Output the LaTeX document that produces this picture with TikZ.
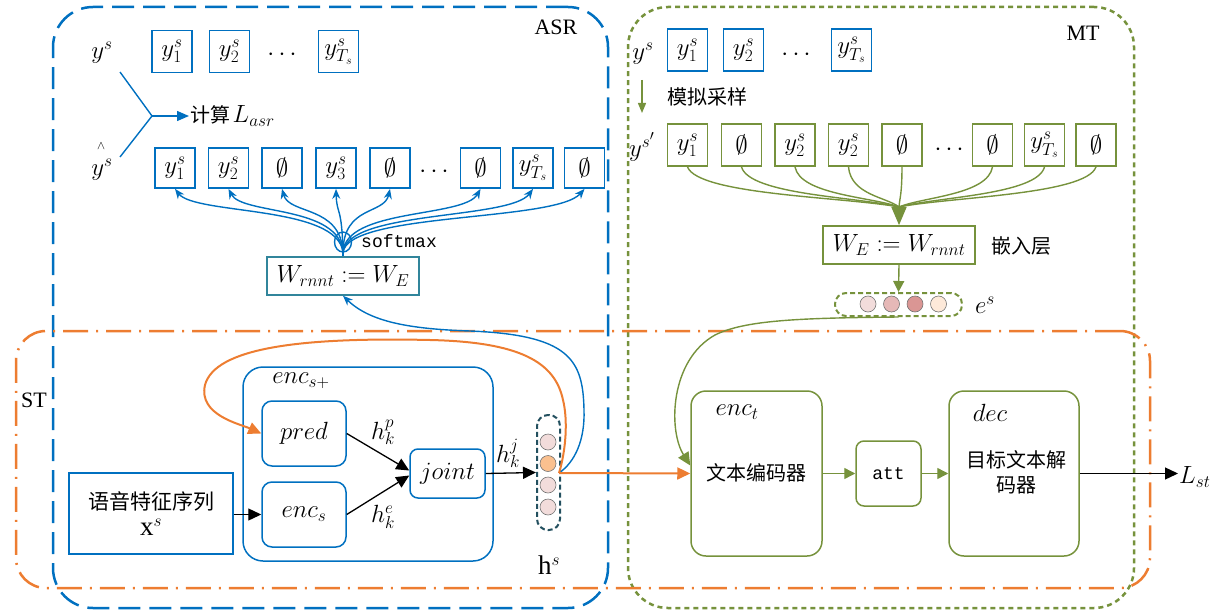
\documentclass[tikz,border=0pt]{standalone}
\usepackage{fontspec}
\setmainfont{Liberation Serif}
\newfontfamily\cjk{Noto Sans CJK SC}
\newfontfamily\monof{Liberation Mono}
\usetikzlibrary{arrows.meta,calc,shapes.geometric}
\definecolor{asrblue}{RGB}{0,112,192}
\definecolor{mtgreen}{RGB}{118,146,60}
\definecolor{storange}{RGB}{237,125,49}
\definecolor{tealc}{RGB}{49,133,155}
\definecolor{hsdark}{RGB}{35,80,95}
\definecolor{cpink}{RGB}{242,220,219}
\definecolor{corange}{RGB}{250,192,143}
\definecolor{crose}{RGB}{230,184,183}
\definecolor{cred}{RGB}{218,150,148}
\definecolor{cpeach}{RGB}{253,233,217}
\newcommand{\es}{{\fontsize{32}{32}\selectfont$\emptyset$}}
\begin{document}
\begin{tikzpicture}[x=1pt,y=-1pt,
  mth/.style={font=\fontsize{27}{32}\selectfont, inner sep=1pt},
  bmth/.style={font=\fontsize{25}{30}\selectfont, inner sep=0pt},
  cjkt/.style={font=\fontsize{20}{25}\selectfont\cjk, inner sep=1pt},
  mono/.style={font=\fontsize{18}{22}\selectfont\monof, inner sep=1pt},
  lab/.style={font=\fontsize{22}{25}\selectfont, inner sep=1pt},
  ab/.style={draw=asrblue, line width=1.8pt, minimum width=40pt, minimum height=42pt, inner sep=0pt, bmth},
  abb/.style={ab, minimum height=40pt},
  gb/.style={draw=mtgreen, line width=1.8pt, minimum width=40pt, minimum height=42pt, inner sep=0pt, bmth},
  bline/.style={draw=asrblue, line width=1.4pt},
  barr/.style={bline, -{Stealth[length=10pt,width=8pt]}},
  gline/.style={draw=mtgreen, line width=1.4pt},
  garr/.style={gline, -{Triangle[length=11pt,width=11pt]}},
  karr/.style={draw=black, line width=1.3pt, -{Triangle[length=13pt,width=12pt]}},
  oarr/.style={draw=storange, line width=2pt, -{Triangle[length=13pt,width=12pt]}},
  dot/.style={circle, draw=black!55, line width=0.6pt, minimum size=16pt, inner sep=0pt}
]
\useasboundingbox (0,0) rectangle (1222,615);

% containers
\node[draw=asrblue, line width=2.5pt, dash pattern=on 22pt off 9pt, rounded corners=40pt, minimum width=555pt, minimum height=601pt, inner sep=0pt] (asr) at (330.5,307.5) {};
\node[draw=mtgreen, line width=2.5pt, dash pattern=on 5pt off 4pt, rounded corners=40pt, minimum width=506pt, minimum height=601pt, inner sep=0pt] (mt) at (881,307.5) {};
\node[draw=storange, line width=2.5pt, dash pattern=on 25pt off 8pt on 2pt off 8pt, rounded corners=30pt, minimum width=1134pt, minimum height=257pt, inner sep=0pt] (st) at (583,459.5) {};
\node[lab] (asrl) at (556,27) {ASR};
\node[lab] (mtl) at (1083,33) {MT};
\node[lab] (stl) at (34,400) {ST};

% ASR top row
\node[mth] (ys) at (102,53) {$y^s$};
\node[ab] (a1) at (172,51.5) {$y_1^s$};
\node[ab] (a2) at (229.5,51.5) {$y_2^s$};
\node[mth] (adots) at (282,55) {$\cdots$};
\node[ab] (aT) at (338.5,51.5) {$y_{T_s}^s$};

% compute L_asr
\coordinate (c1) at (120,72);
\coordinate (c2) at (120,157);
\coordinate (jn) at (152,116);
\node[anchor=west, inner sep=1pt] (calc) at (189,116) {{\fontsize{20}{24}\selectfont\cjk 计算} {\fontsize{27}{30}\selectfont$L_{asr}$}};
\draw[bline] (c1) -- (jn) -- (c2);
\draw[bline, -{Triangle[length=12pt,width=10pt]}] (jn) -- (calc.west);

% y hat
\node[font=\fontsize{13}{15}\selectfont, inner sep=0pt] (hat) at (101,146) {$\wedge$};
\node[mth] (yh) at (102,170) {$y^s$};

% ASR bottom row
\node[abb] (b1) at (175,168) {$y_1^s$};
\node[abb] (b2) at (228.5,168) {$y_2^s$};
\node[abb] (b3) at (282,168) {\es};
\node[abb] (b4) at (336,168) {$y_3^s$};
\node[abb] (b5) at (390,168) {\es};
\node[mth] (bdots) at (434,172) {$\cdots$};
\node[abb] (b6) at (480.5,168) {\es};
\node[abb] (b7) at (533,168) {$y_{T_s}^s$};
\node[abb] (b8) at (584.5,168) {\es};

% softmax and W_rnnt
\node[draw=tealc, line width=1.5pt, minimum width=152pt, minimum height=38pt, mth] (wr) at (343,276) {$W_{rnnt}\mathrel{:=}W_E$};
\node[ellipse, draw=asrblue, line width=1.4pt, minimum width=17pt, minimum height=20pt, inner sep=0pt] (sm) at (343,242) {};
\node[mono, anchor=west] (smt) at (360,241) {softmax};
\draw[bline] (wr.north) -- (sm.south);
\draw[barr] (sm.south) .. controls (338.7,205) and (195,215) .. (b1.south);
\draw[barr] (sm.south) .. controls (339.7,205) and (242.1,215) .. (b2.south);
\draw[barr] (sm.south) .. controls (340.8,205) and (289.2,215) .. (b3.south);
\draw[barr] (sm.south) .. controls (341.9,205) and (336.7,215) .. (b4.south);
\draw[barr] (sm.south) .. controls (343,205) and (384.2,215) .. (b5.south);
\draw[barr] (sm.south) .. controls (344.8,208) and (463.9,218) .. (b6.south);
\draw[barr] (sm.south) .. controls (345.8,210) and (510.1,220) .. (b7.south);
\draw[barr] (sm.south) .. controls (346.9,212) and (555.4,222) .. (b8.south);

% ST inner
\node[draw=asrblue, line width=1.5pt, rounded corners=20pt, minimum width=250pt, minimum height=194pt] (encsp) at (368,464) {};
\node[mth] (encspl) at (301,381) {$enc_{s+}$};
\node[draw=asrblue, line width=1.5pt, rounded corners=10pt, minimum width=84pt, minimum height=65pt, mth] (pred) at (304,433.5) {$pred$};
\node[draw=asrblue, line width=1.5pt, rounded corners=10pt, minimum width=84pt, minimum height=65pt, mth] (encs) at (304,514.5) {$enc_s$};
\node[draw=asrblue, line width=1.5pt, rounded corners=8pt, minimum width=75pt, minimum height=49pt, mth] (joint) at (447.5,473.5) {$joint$};
\node[draw=asrblue, line width=1.5pt, minimum width=164pt, minimum height=81pt, align=center, inner sep=0pt] (xs) at (151,513.5) {{\fontsize{21}{26}\selectfont\cjk 语音特征序列}\\[6pt]{\fontsize{27}{28}\selectfont$\mathrm{x}^s$}};
\node[bmth] (hp) at (383,432) {$h_k^p$};
\node[bmth] (he) at (383,517) {$h_k^e$};
\node[bmth] (hj) at (508,453) {$h_k^j$};

\node[draw=hsdark, line width=2pt, dash pattern=on 5pt off 3pt, rounded corners=11pt, minimum width=23pt, minimum height=115pt, inner sep=0pt] (hs) at (548.5,472.5) {};
\node[dot, fill=cpink] (h1) at (548,442) {};
\node[dot, fill=corange] (h2) at (548,463.5) {};
\node[dot, fill=cpink] (h3) at (548,485) {};
\node[dot, fill=cpink] (h4) at (548,507) {};
\node[mth] (hsl) at (549,565) {$\mathrm{h}^s$};
\coordinate (hsout) at (559,473);

\draw[karr] (xs.east |- encs.west) -- (encs.west);
\draw[karr] (pred.east) -- ([yshift=3pt]joint.west);
\draw[karr] (encs.east) -- ([yshift=-2pt]joint.west);
\draw[karr] (joint.east) -- (hs.west);

% blue feedback to W_rnnt
\draw[barr] (hsout) .. controls (575,462) and (585,440) .. (584,410) .. controls (583,360) and (570,335) .. (470,331) .. controls (410,329) and (370,322) .. (wr.south);
% orange feedback to pred
\draw[oarr] (hsout) .. controls (566,450) and (568,420) .. (563,400) .. controls (555,362) and (520,342) .. (430,340) .. controls (300,337) and (215,348) .. (205,385) .. controls (198,415) and (240,424) .. (pred.west);

% MT top row
\node[mth] (ys2) at (643,54) {$y^s$};
\node[ab] (m1) at (687.5,50) {$y_1^s$};
\node[ab] (m2) at (743.5,50) {$y_2^s$};
\node[mth] (mdots) at (796,55) {$\cdots$};
\node[ab] (mT) at (851.5,50) {$y_{T_s}^s$};
\coordinate (sa) at (642,80);
\coordinate (sb) at (642,113);
\draw[gline, -{Triangle[length=10pt,width=8pt]}] (sa) -- (sb);
\node[cjkt] (samp) at (707,97) {模拟采样};

% MT second row
\node[mth] (ysp) at (642,147) {$y^{s'}$};
\node[gb] (g1) at (687.5,145) {$y_1^s$};
\node[gb] (g2) at (741.5,145) {\es};
\node[gb] (g3) at (795,145) {$y_2^s$};
\node[gb] (g4) at (848.5,145) {$y_2^s$};
\node[gb] (g5) at (902,145) {\es};
\node[mth] (gdots) at (949,150) {$\cdots$};
\node[gb] (g6) at (992.5,145) {\es};
\node[gb] (g7) at (1044.5,145) {$y_{T_s}^s$};
\node[gb] (g8) at (1096,145) {\es};

\node[draw=mtgreen, line width=1.8pt, minimum width=152pt, minimum height=38pt, mth] (we) at (899,245) {$W_E\mathrel{:=}W_{rnnt}$};
\node[cjkt] (emb) at (1021,246) {嵌入层};
\coordinate (cv) at (899,207);
\draw[gline] (g1.south) .. controls (698,195) and (846,197) .. (cv);
\draw[gline] (g2.south) .. controls (749.4,195) and (859.6,197) .. (cv);
\draw[gline] (g3.south) .. controls (800.2,195) and (873,197) .. (cv);
\draw[gline] (g4.south) .. controls (851,195) and (886.4,197) .. (cv);
\draw[gline] (g5.south) .. controls (901.9,195) and (899.8,197) .. (cv);
\draw[gline] (g6.south) .. controls (987.8,195) and (922.4,197) .. (cv);
\draw[gline] (g7.south) .. controls (1037.2,195) and (935.4,197) .. (cv);
\draw[gline] (g8.south) .. controls (1086.2,195) and (948.3,197) .. (cv);
\draw[gline, -{Triangle[length=18pt,width=15pt]}] (cv) -- (we.north);

\node[draw=mtgreen, line width=2pt, dash pattern=on 5pt off 3pt, rounded corners=11pt, minimum width=127pt, minimum height=23pt, inner sep=0pt] (es) at (898.5,304.5) {};
\node[dot, fill=cpink] (e1) at (868,304) {};
\node[dot, fill=crose] (e2) at (891.5,304) {};
\node[dot, fill=cred] (e3) at (915,304) {};
\node[dot, fill=cpeach] (e4) at (938.5,304) {};
\node[mth] (esl) at (985,305) {$e^s$};
\draw[garr] (we.south) -- (es.north);

% MT lower
\node[draw=mtgreen, line width=1.5pt, rounded corners=15pt, minimum width=131pt, minimum height=165pt] (enct) at (756.5,473.5) {};
\node[mth] (enctl) at (737,412) {$enc_t$};
\node[cjkt] (enctt) at (756,473) {文本编码器};
\node[draw=mtgreen, line width=1.5pt, rounded corners=8pt, minimum width=65pt, minimum height=65pt, mono] (att) at (888.5,473.5) {att};
\node[draw=mtgreen, line width=1.5pt, rounded corners=15pt, minimum width=130pt, minimum height=165pt] (dec) at (1014,473.5) {};
\node[mth] (decl) at (990,413) {$dec$};
\node[cjkt, align=center] (dect) at (1016,472) {目标文本解\\码器};
\node[mth, anchor=west] (lst) at (1178,477) {$L_{st}$};

\draw[gline, -{Triangle[length=13pt,width=12pt]}] (es.south) .. controls (800,318) and (745,320) .. (715,335) .. controls (670,360) and (668,430) .. ([yshift=8pt]enct.west);
\draw[oarr] (hsout) -- (enct.west);
\draw[garr] (enct.east) -- (att.west);
\draw[garr] (att.east) -- (dec.west);
\draw[karr] (dec.east) -- (lst.west |- dec.east);
\end{tikzpicture}
\end{document}
